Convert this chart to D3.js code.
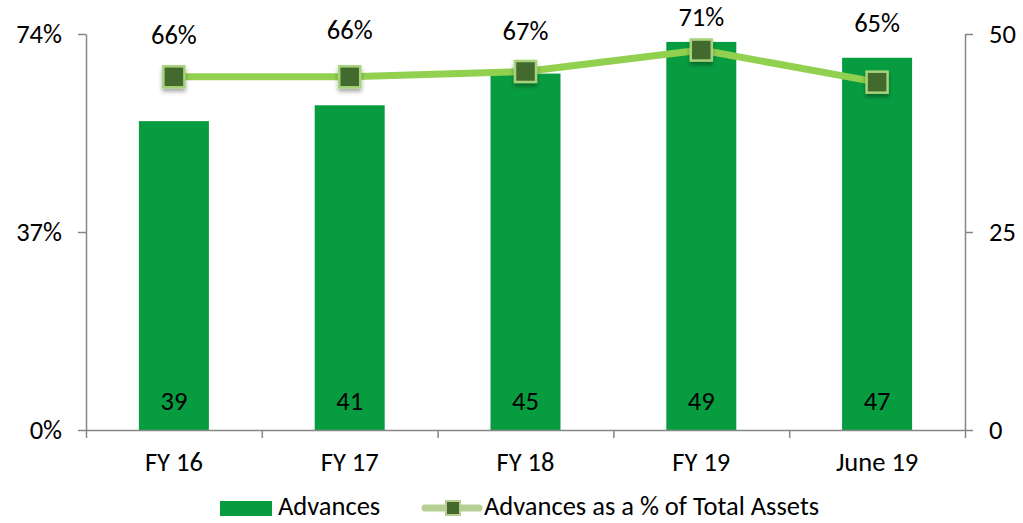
<!DOCTYPE html>
<html>
<head>
<meta charset="utf-8">
<script src="https://cdn.jsdelivr.net/npm/d3@7"></script>
<style>
  body { margin: 0; background: #fff; }
  svg { font-family: Carlito, Lato, sans-serif; }
</style>
</head>
<body>
<div id="chart"></div>
<script>
const categories = ['FY 16', 'FY 17', 'FY 18', 'FY 19', 'June 19'];
const advances = [39, 41, 45, 49, 47];
const advancesPct = [66, 66, 67, 71, 65];
const leftTicks = [0, 37, 74];
const rightTicks = [0, 25, 50];

// label nudges above each marker, px
const pctLabelDy = [-39, -44, -38, -30, -57];

const width = 1023, height = 523;
const margin = { top: 34, right: 58, bottom: 93, left: 86 };
const innerW = width - margin.left - margin.right;
const innerH = height - margin.top - margin.bottom;

const barColor = '#089c41';
const lineColor = '#92d050';
const markerFill = '#43692d';
const axisColor = '#868686';
const fontSize = 26.5;

const svg = d3.select('#chart').append('svg')
  .attr('width', width)
  .attr('height', height);

const defs = svg.append('defs');
const shadow = defs.append('filter').attr('id', 'shadow')
  .attr('x', '-50%').attr('y', '-50%').attr('width', '200%').attr('height', '200%');
shadow.append('feDropShadow')
  .attr('dx', 0).attr('dy', 3).attr('stdDeviation', 2)
  .attr('flood-color', '#000').attr('flood-opacity', 0.35);

const bounds = svg.append('g')
  .attr('transform', `translate(${margin.left},${margin.top})`);

const xScale = d3.scaleBand().domain(categories).range([0, innerW]);
const yLeft = d3.scaleLinear().domain([0, 74]).range([innerH, 0]);
const yRight = d3.scaleLinear().domain([0, 50]).range([innerH, 0]);

const barW = 70;

// bars
bounds.append('g').selectAll('rect')
  .data(advances)
  .join('rect')
  .attr('x', (d, i) => xScale(categories[i]) + xScale.bandwidth() / 2 - barW / 2)
  .attr('y', d => yRight(d))
  .attr('width', barW)
  .attr('height', d => innerH - yRight(d))
  .attr('fill', barColor);

bounds.append('g').selectAll('text')
  .data(advances)
  .join('text')
  .attr('x', (d, i) => xScale(categories[i]) + xScale.bandwidth() / 2)
  .attr('y', innerH - 26)
  .attr('text-anchor', 'middle')
  .attr('dominant-baseline', 'middle')
  .attr('font-size', fontSize)
  .attr('fill', '#000')
  .text(d => d);

// axes
const leftAxis = d3.axisLeft(yLeft).tickValues(leftTicks)
  .tickFormat(d => d + '%').tickSize(8).tickSizeOuter(0);
const rightAxis = d3.axisRight(yRight).tickValues(rightTicks)
  .tickSize(8).tickSizeOuter(0);
const bottomAxis = d3.axisBottom(d3.scaleLinear().domain([0, 5]).range([0, innerW]))
  .tickValues([0, 1, 2, 3, 4, 5]).tickFormat('').tickSize(8).tickSizeOuter(0);

function styleAxis(g) {
  g.select('.domain').attr('stroke', axisColor).attr('stroke-width', 1.5);
  g.selectAll('.tick line').attr('stroke', axisColor).attr('stroke-width', 1.5);
  g.selectAll('.tick text')
    .attr('font-size', fontSize)
    .attr('font-family', 'Carlito, Lato, sans-serif')
    .attr('fill', '#000');
}

bounds.append('g').call(leftAxis).call(styleAxis)
  .selectAll('.tick text').attr('x', -24);
bounds.append('g').attr('transform', `translate(${innerW},0)`)
  .call(rightAxis).call(styleAxis)
  .selectAll('.tick text').attr('x', 24);
bounds.append('g').attr('transform', `translate(0,${innerH})`)
  .call(bottomAxis).call(styleAxis);

bounds.append('g').selectAll('text')
  .data(categories)
  .join('text')
  .attr('x', d => xScale(d) + xScale.bandwidth() / 2)
  .attr('y', innerH + 35)
  .attr('text-anchor', 'middle')
  .attr('dominant-baseline', 'middle')
  .attr('font-size', fontSize)
  .text(d => d);

// line
const lineGen = d3.line()
  .x((d, i) => xScale(categories[i]) + xScale.bandwidth() / 2)
  .y(d => yLeft(d));

bounds.append('path')
  .datum(advancesPct)
  .attr('d', lineGen)
  .attr('fill', 'none')
  .attr('stroke', lineColor)
  .attr('stroke-width', 7)
  .attr('stroke-linejoin', 'round');

const mSize = 21;
bounds.append('g').selectAll('rect')
  .data(advancesPct)
  .join('rect')
  .attr('x', (d, i) => xScale(categories[i]) + xScale.bandwidth() / 2 - mSize / 2)
  .attr('y', d => yLeft(d) - mSize / 2)
  .attr('width', mSize)
  .attr('height', mSize)
  .attr('fill', markerFill)
  .attr('stroke', '#a6d27a')
  .attr('stroke-width', 2.5)
  .attr('filter', 'url(#shadow)');

bounds.append('g').selectAll('text')
  .data(advancesPct)
  .join('text')
  .attr('x', (d, i) => xScale(categories[i]) + xScale.bandwidth() / 2)
  .attr('y', (d, i) => yLeft(d) + pctLabelDy[i])
  .attr('text-anchor', 'middle')
  .attr('dominant-baseline', 'middle')
  .attr('font-size', fontSize)
  .text(d => d + '%');

// legend
const legend = svg.append('g');
legend.append('rect')
  .attr('x', 220).attr('y', 501).attr('width', 52).attr('height', 15)
  .attr('fill', barColor);
legend.append('text')
  .attr('x', 278).attr('y', 509)
  .attr('dominant-baseline', 'middle')
  .attr('font-size', fontSize)
  .text('Advances');
legend.append('line')
  .attr('x1', 425).attr('x2', 479).attr('y1', 508).attr('y2', 508)
  .attr('stroke', '#b5cf95').attr('stroke-width', 7).attr('stroke-linecap', 'round');
legend.append('rect')
  .attr('x', 446).attr('y', 501).attr('width', 14).attr('height', 14)
  .attr('fill', markerFill).attr('stroke', '#b5cf95').attr('stroke-width', 2);
legend.append('text')
  .attr('x', 484).attr('y', 509)
  .attr('dominant-baseline', 'middle')
  .attr('font-size', fontSize)
  .text('Advances as a % of Total Assets');
</script>
</body>
</html>
